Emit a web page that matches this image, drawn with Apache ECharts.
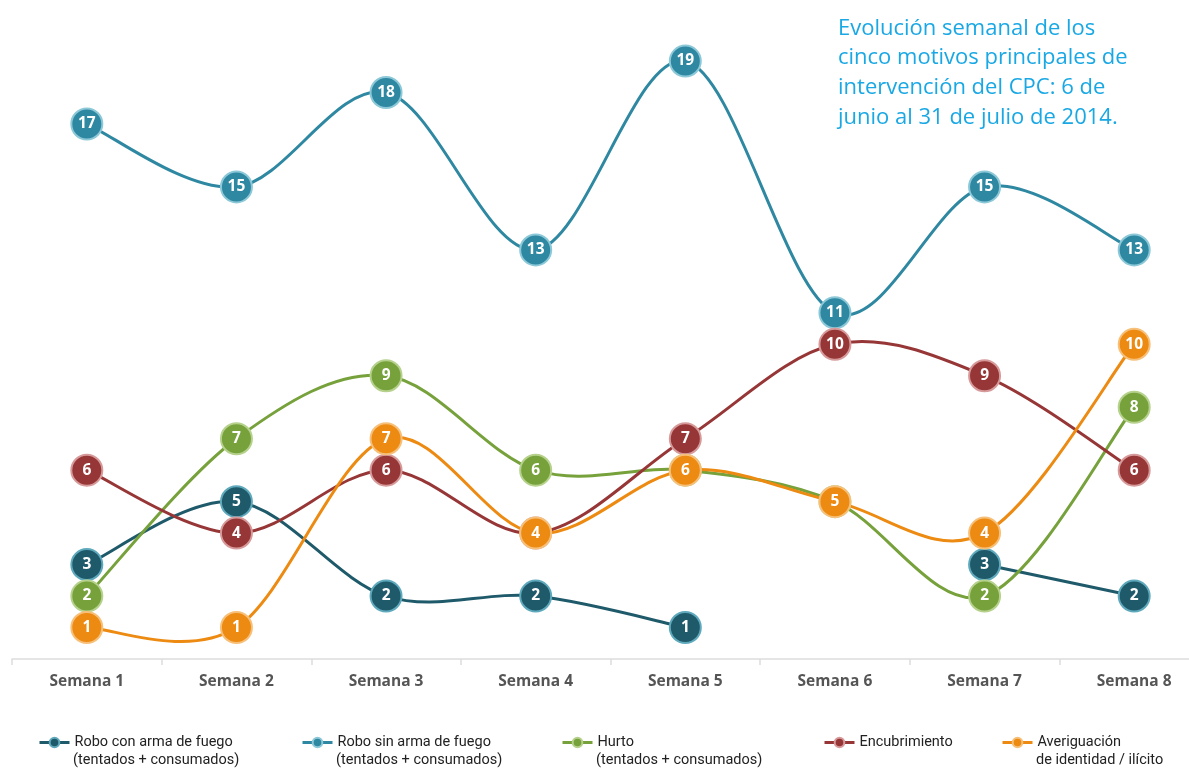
<!DOCTYPE html>
<html><head><meta charset="utf-8">
<script src="https://cdn.jsdelivr.net/npm/echarts@6/dist/echarts.min.js"></script>
<style>html,body{margin:0;padding:0;background:#fff}#c{width:1189px;height:768px}</style>
</head><body><div id="c"></div>
<script>
const categories = ['Semana 1','Semana 2','Semana 3','Semana 4','Semana 5','Semana 6','Semana 7','Semana 8'];
const seriesNames = ['Robo con arma de fuego\n(tentados + consumados)','Robo sin arma de fuego\n(tentados + consumados)','Hurto\n(tentados + consumados)','Encubrimiento','Averiguación\nde identidad / ilícito'];
const roboConArma = [3, 5, 2, 2, 1, null, 3, 2];
const roboSinArma = [17, 15, 18, 13, 19, 11, 15, 13];
const hurto = [2, 7, 9, 6, 6, 5, 2, 8];
const encubrimiento = [6, 4, 6, 4, 7, 10, 9, 6];
const averiguacion = [1, 1, 7, 4, 6, 5, 4, 10];
const titleText = 'Evolución semanal de los\ncinco motivos principales de\nintervención del CPC: 6 de\njunio al 31 de julio de 2014.';

const colors = ['#1f5a6b','#2f88a1','#76a13b','#973636','#ec8a12'];
const borders = ['#5fa9bd','#8cc8d8','#b5d18c','#d79a9a','#f7c07a'];
const dataSets = [roboConArma, roboSinArma, hurto, encubrimiento, averiguacion];
const legendLeft = [38, 301, 561, 823, 1001];
const FONT = '"Open Sans", Lato, sans-serif';
const LFONT = 'Roboto, "Open Sans", sans-serif';

// Catmull-Rom curve through the axis-mapped points (segments split at nulls)
function curvePath(vals, api) {
  const segs = [];
  let cur = [];
  vals.forEach((v, i) => {
    if (v == null) { if (cur.length) segs.push(cur); cur = []; }
    else cur.push(api.coord([i, v]));
  });
  if (cur.length) segs.push(cur);
  let d = '';
  segs.forEach(p => {
    if (p.length < 2) return;
    d += 'M' + p[0][0] + ' ' + p[0][1];
    for (let i = 0; i < p.length - 1; i++) {
      const p0 = p[i - 1] || p[i], p1 = p[i], p2 = p[i + 1], p3 = p[i + 2] || p[i + 1];
      const c1x = p1[0] + (p2[0] - p0[0]) / 6, c1y = p1[1] + (p2[1] - p0[1]) / 6;
      const c2x = p2[0] - (p3[0] - p1[0]) / 6, c2y = p2[1] - (p3[1] - p1[1]) / 6;
      d += ' C' + c1x + ' ' + c1y + ' ' + c2x + ' ' + c2y + ' ' + p2[0] + ' ' + p2[1];
    }
  });
  return d;
}

const chart = echarts.init(document.getElementById('c'), null, {renderer:'canvas'});
const curveSeries = dataSets.map((d, i) => ({
  type: 'custom',
  name: 'curve' + i,
  data: [[0, 0]],
  z: 1,
  silent: true,
  renderItem: (params, api) => ({
    type: 'path',
    shape: {pathData: curvePath(d, api)},
    style: {stroke: colors[i], lineWidth: 3, fill: 'none'}
  })
}));
const pointSeries = dataSets.map((d, i) => ({
  name: seriesNames[i],
  type: 'line',
  data: d,
  connectNulls: false,
  symbol: 'circle',
  symbolSize: 31,
  lineStyle: {color: colors[i], width: 3, opacity: 0},
  itemStyle: {color: colors[i], borderColor: borders[i], borderWidth: 2},
  label: {show: true, position: 'inside', color: '#fff', fontFamily: FONT, fontWeight: 'bold', fontSize: 15.5},
  emphasis: {disabled: true},
  z: 2 + i
}));
const legends = seriesNames.map((n, i) => ({
  left: legendLeft[i], top: 735, padding: 0,
  itemWidth: 30, itemHeight: 12, itemGap: 0,
  data: [n],
  lineStyle: {opacity: 1, width: 3, color: colors[i]},
  formatter: name => name.split('\n')[0],
  textStyle: {fontFamily: LFONT, fontSize: 14.5, color: '#222'},
  selectedMode: false
}));
const subTexts = [];
seriesNames.forEach((n, i) => {
  const parts = n.split('\n');
  if (parts.length > 1) {
    subTexts.push({type: 'text', left: legendLeft[i] + 35, top: 753,
      style: {text: parts[1], fontFamily: LFONT, fontSize: 14.5, fill: '#222'}});
  }
});
chart.setOption({
  animation: false,
  title: {text: titleText, left: 838, top: 13.5, padding: 0,
    textStyle: {fontFamily: FONT, fontWeight: 'normal', fontSize: 22, color: '#19a8e4', lineHeight: 29.7}},
  grid: {left: 12, width: 1197, top: 29.6, bottom: 109, outerBoundsMode: 'none', containLabel: false},
  legend: legends,
  graphic: subTexts,
  xAxis: {type: 'category', data: categories, boundaryGap: true,
    axisLine: {lineStyle: {color: '#dddddd', width: 1.5}},
    axisTick: {show: true, length: 6, lineStyle: {color: '#dddddd', width: 1.5}},
    axisLabel: {fontFamily: FONT, fontWeight: 'bold', fontSize: 15.5, color: '#555', margin: 15}},
  yAxis: {type: 'value', min: 0, max: 20, show: false, splitLine: {show: false}},
  series: curveSeries.concat(pointSeries)
});
</script></body></html>
